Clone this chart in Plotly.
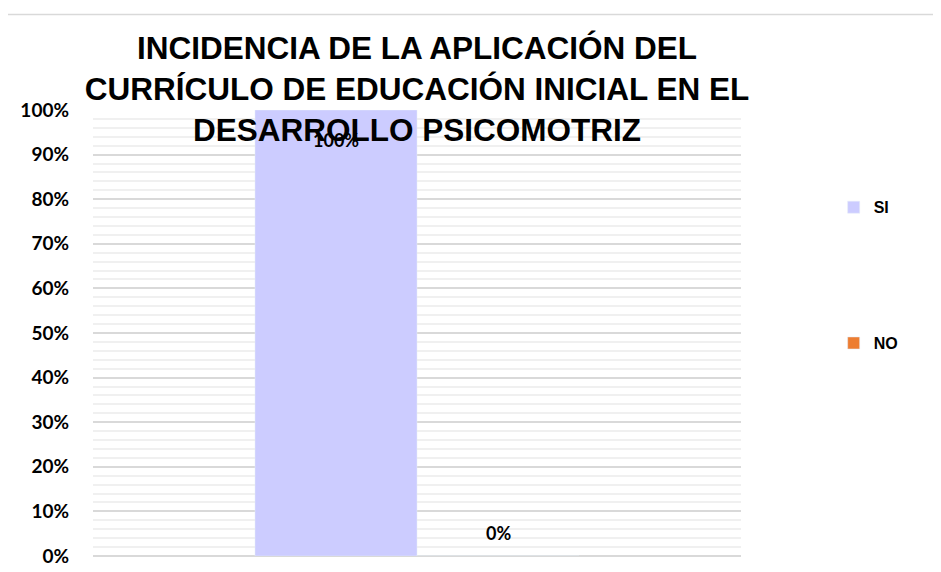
import plotly.graph_objects as go

# Data
category = ['']
series_names = ['SI', 'NO']
si_values = [1.0]
no_values = [0.0]
colors = {'SI': '#CCCCFF', 'NO': '#ED7D31'}

label_font = dict(family='Lato', size=18, color='#000000', weight='bold')

fig = go.Figure()

fig.add_trace(go.Bar(
    x=category, y=si_values, name='SI', legendgroup='SI',
    marker=dict(color=colors['SI']), hoverinfo='none'
))
fig.add_trace(go.Bar(
    x=category, y=no_values, name='NO', legendgroup='NO',
    marker=dict(color=colors['NO']), hoverinfo='none'
))

# data labels (Excel style placement)
fig.add_annotation(x=0, y=si_values[0], text=f'{si_values[0]:.0%}',
                   showarrow=False, xshift=-81, yshift=-30, font=label_font)
fig.add_annotation(x=0, y=no_values[0], text=f'{no_values[0]:.0%}',
                   showarrow=False, xshift=81, yshift=23, font=label_font)

fig.update_layout(
    width=941, height=572,
    margin=dict(l=85, r=208, t=102, b=24, autoexpand=False),
    paper_bgcolor='white', plot_bgcolor='white',
    barmode='group', bargap=0.5, bargroupgap=0,
    title=dict(
        text='INCIDENCIA DE LA APLICACIÓN DEL<br>CURRÍCULO DE EDUCACIÓN INICIAL EN EL<br>DESARROLLO PSICOMOTRIZ',
        x=0.5, xanchor='center', xref='paper', y=0.91, yanchor='top',
        font=dict(family='Liberation Sans', size=31.5, color='#000000', weight='bold')
    ),
    showlegend=True,
    legend=dict(
        x=1.143, y=0.82, xanchor='left', yanchor='top',
        tracegroupgap=112, traceorder='grouped',
        font=dict(family='Liberation Sans', size=16, color='#000000', weight='bold'),
        itemwidth=30
    ),
    shapes=[dict(type='rect', xref='paper', yref='paper',
                 x0=-0.134, x1=1.3, y0=-0.1, y1=1.214,
                 line=dict(color='#D9D9D9', width=1.5), layer='below')]
)

fig.update_yaxes(
    range=[0, 1], dtick=0.1, tickformat='.0%',
    tickfont=dict(family='Lato', size=19, color='#000000', weight='bold'),
    showgrid=True, gridcolor='#D9D9D9', gridwidth=2,
    minor=dict(dtick=0.02, showgrid=True, gridcolor='#F0F0F0', gridwidth=2),
    zeroline=True, zerolinecolor='#D9D9D9', zerolinewidth=2,
    showline=False, ticks='', ticklabelstandoff=23
)
fig.update_xaxes(type='category', range=[-0.5, 0.5], showticklabels=False,
                 showgrid=False, showline=False, ticks='')

fig.write_html('out.html')
